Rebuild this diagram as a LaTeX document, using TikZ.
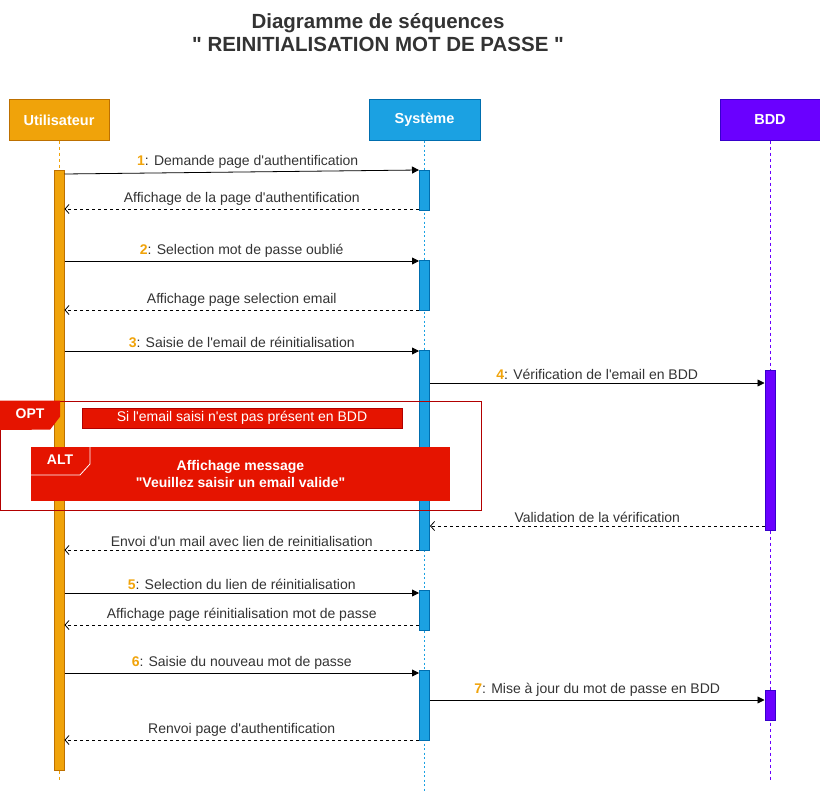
\documentclass[tikz,border=0pt]{standalone}
\usepackage{fontspec}
\setmainfont{Liberation Sans}[Ligatures=TeXOff]
\usepackage{xcolor}
\usepackage{tikz}
\usetikzlibrary{arrows.meta,positioning,calc}

\definecolor{userfill}{HTML}{F0A30A}
\definecolor{userline}{HTML}{BD7000}
\definecolor{sysfill}{HTML}{1BA1E2}
\definecolor{sysline}{HTML}{006EAF}
\definecolor{bddfill}{HTML}{6A00FF}
\definecolor{bddline}{HTML}{3700CC}
\definecolor{optfill}{HTML}{E51400}
\definecolor{optline}{HTML}{B20000}
\definecolor{txt}{HTML}{333333}

\newcommand{\stepnum}[1]{{\bfseries\color{userfill}#1}}

\begin{document}
\begin{tikzpicture}[x=1pt, y=-1pt,
    actor/.style={rectangle, draw, line width=1pt, minimum width=100pt, minimum height=40pt, text=white, font=\fontsize{14.5}{16}\selectfont\bfseries},
    bar/.style={rectangle, draw, line width=1pt, minimum width=10pt, inner sep=0pt},
    msg/.style={line width=0.8pt, -{Triangle[length=7pt, width=7pt]}},
    ret/.style={line width=0.8pt, dash pattern=on 3pt off 3pt, -{Straight Barb[length=4pt, width=9pt]}},
    lbl/.style={font=\fontsize{14}{16}\selectfont, text=txt, inner sep=3pt},
    life/.style={line width=1pt, dash pattern=on 3pt off 3pt},
    frametxt/.style={text=white, font=\fontsize{14}{17}\selectfont\bfseries, align=center}
]
    \useasboundingbox (0,0) rectangle (820,792);

    % Title
    \node[font=\fontsize{20.5}{23}\selectfont\bfseries, text=txt, align=center] (title) at (378,33)
        {Diagramme de séquences\\" REINITIALISATION MOT DE PASSE "};

    % Actors
    \node[actor, fill=userfill, draw=userline] (user) at (59,120) {Utilisateur};
    \node[actor, fill=sysfill, draw=sysline, minimum width=111pt] (sys) at (424.5,120) {Système};
    \node[actor, fill=bddfill, draw=bddline] (bdd) at (770,120) {BDD};

    % Lifelines
    \draw[life, userfill] (user) -- (user |- 0,780);
    \draw[sysfill, line width=1.3pt, dash pattern=on 2pt off 2.5pt] (sys) -- (sys |- 0,792);
    \draw[life, bddfill, line width=0.8pt] (bdd) -- (bdd |- 0,780);

    % Activation bars
    \node[bar, fill=userfill, draw=userline, minimum height=600pt] (ubar) at (59,470) {};
    \node[bar, fill=sysfill, draw=sysline, minimum height=40pt] (s1) at (424.5,190) {};
    \node[bar, fill=sysfill, draw=sysline, minimum height=50pt] (s2) at (424.5,285) {};
    \node[bar, fill=sysfill, draw=sysline, minimum height=200pt] (s3) at (424.5,450) {};
    \node[bar, fill=sysfill, draw=sysline, minimum height=40pt] (s4) at (424.5,610) {};
    \node[bar, fill=sysfill, draw=sysline, minimum height=70pt] (s5) at (424.5,705) {};
    \node[bar, fill=bddfill, draw=bddline, minimum height=160pt] (b1) at (770,450) {};
    \node[bar, fill=bddfill, draw=bddline, minimum height=30pt] (b2) at (770,705) {};

    % Messages
    \draw[msg] (ubar.east |- 0,174) -- (s1.west |- 0,170)
        node[midway, above, lbl, xshift=6pt] {\stepnum{1}: Demande page d'authentification};
    \draw[ret] (s1.west |- 0,209) -- (ubar.east |- 0,209)
        node[midway, above, lbl] {Affichage de la page d'authentification};
    \draw[msg] (ubar.east |- 0,261) -- (s2.west |- 0,261)
        node[midway, above, lbl] {\stepnum{2}: Selection mot de passe oublié};
    \draw[ret] (s2.west |- 0,310) -- (ubar.east |- 0,310)
        node[midway, above, lbl] {Affichage page selection email};
    \draw[msg] (ubar.east |- 0,351) -- (s3.west |- 0,351)
        node[midway, above, lbl] {\stepnum{3}: Saisie de l'email de réinitialisation};
    \draw[msg] (s3.east |- 0,383) -- (b1.west |- 0,383)
        node[midway, above, lbl] {\stepnum{4}: Vérification de l'email en BDD};
    \draw[ret] (b1.west |- 0,526) -- (s3.east |- 0,526)
        node[midway, above, lbl] {Validation de la vérification};
    \draw[ret] (s3.west |- 0,550) -- (ubar.east |- 0,550)
        node[midway, above, lbl] {Envoi d'un mail avec lien de reinitialisation};
    \draw[msg] (ubar.east |- 0,593) -- (s4.west |- 0,593)
        node[midway, above, lbl] {\stepnum{5}: Selection du lien de réinitialisation};
    \draw[ret] (s4.west |- 0,625) -- (ubar.east |- 0,625)
        node[midway, above, lbl] {Affichage page réinitialisation mot de passe};
    \draw[msg] (ubar.east |- 0,673) -- (s5.west |- 0,673)
        node[midway, above, lbl] {\stepnum{6}: Saisie du nouveau mot de passe};
    \draw[msg] (s5.east |- 0,700) -- (b2.west |- 0,700)
        node[midway, above, lbl] {\stepnum{7}: Mise à jour du mot de passe en BDD};
    \draw[ret] (s5.west |- 0,740) -- (ubar.east |- 0,740)
        node[midway, above, lbl] {Renvoi page d'authentification};

    % OPT frame
    \node[draw=optline, line width=0.8pt, minimum width=480.5pt, minimum height=109pt, inner sep=0pt] (opt) at (240.75,455.5) {};
    \fill[optfill] (opt.north west) -- ++(60,0) -- ++(0,16) -- ++(-10,13) -- (opt.west |- 0,430) -- cycle;
    \node[frametxt] (optlbl) at (30,414) {OPT};
    \node[fill=optfill, draw=optline, line width=0.8pt, minimum width=320pt, minimum height=20pt, inner sep=0pt,
        text=white, font=\fontsize{14}{16}\selectfont] (cond) at (242,418) {Si l'email saisi n'est pas présent en BDD};

    % ALT frame
    \node[fill=optfill, minimum width=419pt, minimum height=54pt, inner sep=0pt, frametxt] (alt) at (240.5,473.5)
        {Affichage message\\"Veuillez saisir un email valide"};
    \draw[white, line width=0.8pt] (alt.west |- 0,475) -- (80,475) -- (90,464) -- (90,446);
    \node[frametxt] (altlbl) at (60,460) {ALT};
\end{tikzpicture}
\end{document}
